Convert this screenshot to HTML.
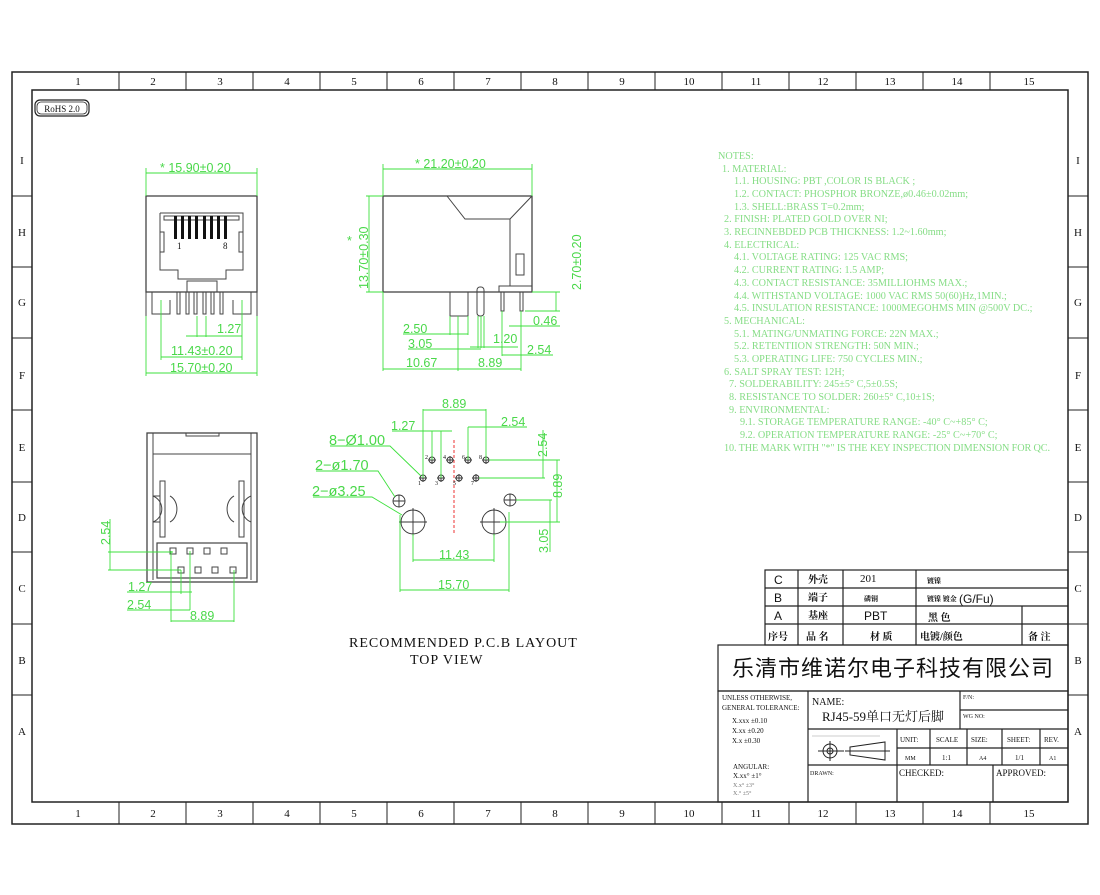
<!DOCTYPE html>
<html><head><meta charset="utf-8"><style>
body{margin:0;background:#fff;}
svg{display:block;}
.g{fill:#4ad84a;font-family:"Liberation Sans",sans-serif;}
.n{fill:#86dd86;font-family:"Liberation Serif","Noto Serif CJK SC",serif;font-size:10.2px;}
.k{font-family:"Liberation Serif","Noto Serif CJK SC",serif;fill:#111;}
</style></head><body>
<svg width="1100" height="895" viewBox="0 0 1100 895" xmlns="http://www.w3.org/2000/svg">
<rect width="1100" height="895" fill="#fff"/>
<g fill="none" stroke="#222" stroke-width="1.5">
<rect x="12" y="72" width="1076" height="752"/>
<rect x="32" y="90" width="1036" height="712"/>
</g>
<g stroke="#222" stroke-width="1">
<line x1="119" y1="72" x2="119" y2="90"/><line x1="186" y1="72" x2="186" y2="90"/><line x1="253" y1="72" x2="253" y2="90"/><line x1="320" y1="72" x2="320" y2="90"/><line x1="387" y1="72" x2="387" y2="90"/><line x1="454" y1="72" x2="454" y2="90"/><line x1="521" y1="72" x2="521" y2="90"/><line x1="588" y1="72" x2="588" y2="90"/><line x1="655" y1="72" x2="655" y2="90"/><line x1="722" y1="72" x2="722" y2="90"/><line x1="789" y1="72" x2="789" y2="90"/><line x1="856" y1="72" x2="856" y2="90"/><line x1="923" y1="72" x2="923" y2="90"/><line x1="990" y1="72" x2="990" y2="90"/>
<line x1="119" y1="802" x2="119" y2="824"/><line x1="186" y1="802" x2="186" y2="824"/><line x1="253" y1="802" x2="253" y2="824"/><line x1="320" y1="802" x2="320" y2="824"/><line x1="387" y1="802" x2="387" y2="824"/><line x1="454" y1="802" x2="454" y2="824"/><line x1="521" y1="802" x2="521" y2="824"/><line x1="588" y1="802" x2="588" y2="824"/><line x1="655" y1="802" x2="655" y2="824"/><line x1="722" y1="802" x2="722" y2="824"/><line x1="789" y1="802" x2="789" y2="824"/><line x1="856" y1="802" x2="856" y2="824"/><line x1="923" y1="802" x2="923" y2="824"/><line x1="990" y1="802" x2="990" y2="824"/>
<line x1="12" y1="196" x2="32" y2="196"/><line x1="12" y1="267" x2="32" y2="267"/><line x1="12" y1="338" x2="32" y2="338"/><line x1="12" y1="410" x2="32" y2="410"/><line x1="12" y1="482" x2="32" y2="482"/><line x1="12" y1="552" x2="32" y2="552"/><line x1="12" y1="624" x2="32" y2="624"/><line x1="12" y1="695" x2="32" y2="695"/>
<line x1="1068" y1="196" x2="1088" y2="196"/><line x1="1068" y1="267" x2="1088" y2="267"/><line x1="1068" y1="338" x2="1088" y2="338"/><line x1="1068" y1="410" x2="1088" y2="410"/><line x1="1068" y1="482" x2="1088" y2="482"/><line x1="1068" y1="552" x2="1088" y2="552"/><line x1="1068" y1="624" x2="1088" y2="624"/><line x1="1068" y1="695" x2="1088" y2="695"/>
</g>
<g class="k" font-size="11" text-anchor="middle">
<text x="78" y="85">1</text><text x="153" y="85">2</text><text x="220" y="85">3</text><text x="287" y="85">4</text><text x="354" y="85">5</text><text x="421" y="85">6</text><text x="488" y="85">7</text><text x="555" y="85">8</text><text x="622" y="85">9</text><text x="689" y="85">10</text><text x="756" y="85">11</text><text x="823" y="85">12</text><text x="890" y="85">13</text><text x="957" y="85">14</text><text x="1029" y="85">15</text>
<text x="78" y="817">1</text><text x="153" y="817">2</text><text x="220" y="817">3</text><text x="287" y="817">4</text><text x="354" y="817">5</text><text x="421" y="817">6</text><text x="488" y="817">7</text><text x="555" y="817">8</text><text x="622" y="817">9</text><text x="689" y="817">10</text><text x="756" y="817">11</text><text x="823" y="817">12</text><text x="890" y="817">13</text><text x="957" y="817">14</text><text x="1029" y="817">15</text>
<text x="22" y="164">I</text><text x="22" y="236">H</text><text x="22" y="306">G</text><text x="22" y="379">F</text><text x="22" y="451">E</text><text x="22" y="521">D</text><text x="22" y="592">C</text><text x="22" y="664">B</text><text x="22" y="735">A</text>
<text x="1078" y="164">I</text><text x="1078" y="236">H</text><text x="1078" y="306">G</text><text x="1078" y="379">F</text><text x="1078" y="451">E</text><text x="1078" y="521">D</text><text x="1078" y="592">C</text><text x="1078" y="664">B</text><text x="1078" y="735">A</text>
</g>
<rect x="35" y="100" width="54" height="16" rx="5" fill="none" stroke="#222" stroke-width="1.2"/>
<rect x="37" y="102" width="50" height="12" rx="4" fill="none" stroke="#222" stroke-width="0.8"/>
<text x="62" y="112" class="k" font-size="9" text-anchor="middle">RoHS 2.0</text>

<!-- FRONT VIEW -->
<g fill="none" stroke="#444" stroke-width="1">
<rect x="146" y="196" width="111" height="96" stroke-width="1.3"/>
<polyline points="160,213 243,213 243,270 226,270 226,279 178,279 178,270 160,270 160,213"/>
<rect x="164" y="216" width="75" height="4"/>
<rect x="160" y="232" width="4" height="20"/><rect x="239" y="232" width="4" height="20"/>
<rect x="187" y="281" width="30" height="11"/>
<line x1="146" y1="292" x2="146" y2="316"/><line x1="257" y1="292" x2="257" y2="316"/>
<path d="M152 292 V314 H170 V300 M233 300 V314 H251 V292"/>
<path d="M177 292V314h3V292 M186 292V314h3V292 M194 292V314h3V292 M203 292V314h3V292 M211 292V314h3V292 M220 292V314h3V292"/>
</g>
<g fill="#111"><rect x="174" y="216" width="3" height="23"/><rect x="181" y="216" width="3" height="23"/><rect x="188" y="216" width="3" height="23"/><rect x="195" y="216" width="3" height="23"/><rect x="203" y="216" width="3" height="23"/><rect x="210" y="216" width="3" height="23"/><rect x="217" y="216" width="3" height="23"/><rect x="224" y="216" width="3" height="23"/></g>
<text x="177" y="249" class="k" font-size="9">1</text><text x="223" y="249" class="k" font-size="9">8</text>
<g stroke="#3de03d" stroke-width="0.9" fill="none">
<line x1="146" y1="173" x2="257" y2="173"/><line x1="146" y1="168" x2="146" y2="196"/><line x1="257" y1="168" x2="257" y2="196"/>
<line x1="161" y1="300" x2="161" y2="360"/><line x1="242" y1="300" x2="242" y2="360"/>
<line x1="146" y1="316" x2="146" y2="376"/><line x1="257" y1="316" x2="257" y2="376"/>
<line x1="197" y1="316" x2="197" y2="337"/><line x1="206" y1="316" x2="206" y2="337"/>
<line x1="186" y1="336" x2="242" y2="336"/>
<line x1="161" y1="357" x2="242" y2="357"/><line x1="146" y1="373" x2="257" y2="373"/>
</g>
<g class="g" font-size="12.5">
<text x="160" y="172">* 15.90±0.20</text><text x="217" y="333">1.27</text><text x="171" y="355">11.43±0.20</text><text x="170" y="372">15.70±0.20</text>
</g>

<!-- SIDE VIEW -->
<g fill="none" stroke="#444" stroke-width="1">
<rect x="383" y="196" width="149" height="96" stroke-width="1.3"/>
<polyline points="447,196 465,219 510,219 532,196"/>
<line x1="510" y1="219" x2="510" y2="286"/>
<rect x="516" y="254" width="8" height="21"/>
<rect x="499" y="286" width="33" height="6"/>
<rect x="450" y="292" width="18" height="24"/>
<rect x="477" y="287" width="7" height="29" rx="3"/>
<rect x="501" y="292" width="3" height="19"/><rect x="520" y="292" width="3" height="19"/>
</g>
<g stroke="#3de03d" stroke-width="0.9" fill="none">
<line x1="383" y1="169" x2="532" y2="169"/><line x1="383" y1="164" x2="383" y2="196"/><line x1="532" y1="164" x2="532" y2="196"/>
<line x1="366" y1="196" x2="383" y2="196"/><line x1="366" y1="292" x2="383" y2="292"/><line x1="369" y1="196" x2="369" y2="292"/>
<line x1="532" y1="292" x2="560" y2="292"/><line x1="525" y1="311" x2="560" y2="311"/><line x1="556" y1="292" x2="556" y2="311"/>
<line x1="383" y1="292" x2="383" y2="371"/><line x1="458" y1="316" x2="458" y2="371"/><line x1="521" y1="311" x2="521" y2="371"/>
<line x1="450" y1="316" x2="450" y2="335"/><line x1="468" y1="316" x2="468" y2="335"/>
<line x1="478" y1="316" x2="478" y2="348"/><line x1="481" y1="316" x2="481" y2="348"/><line x1="484" y1="316" x2="484" y2="348"/>
<line x1="502" y1="311" x2="502" y2="356"/>
<line x1="403" y1="334" x2="468" y2="334"/><line x1="408" y1="349" x2="481" y2="349"/><line x1="470" y1="347" x2="518" y2="347"/>
<line x1="509" y1="326" x2="560" y2="326"/><line x1="502" y1="355" x2="553" y2="355"/>
<line x1="383" y1="369" x2="521" y2="369"/>
</g>
<g class="g" font-size="12.5">
<text x="415" y="168">* 21.20±0.20</text>
<text x="403" y="333">2.50</text><text x="408" y="348">3.05</text><text x="493" y="343">1.20</text><text x="533" y="325">0.46</text><text x="527" y="354">2.54</text>
<text x="406" y="367">10.67</text><text x="478" y="367">8.89</text>
<text transform="translate(368,289) rotate(-90)">13.70±0.30</text><text x="347" y="245">*</text>
<text transform="translate(581,290) rotate(-90)">2.70±0.20</text>
</g>

<!-- BOTTOM VIEW -->
<g fill="none" stroke="#444" stroke-width="1">
<rect x="147" y="433" width="110" height="149" stroke-width="1.3"/>
<line x1="153" y1="433" x2="153" y2="580"/><line x1="251" y1="433" x2="251" y2="580"/>
<line x1="153" y1="454" x2="251" y2="454"/><rect x="186" y="433" width="33" height="3"/>
<rect x="157" y="543" width="90" height="35" stroke-width="1.2"/>
<rect x="160" y="481" width="5" height="56"/><rect x="239" y="481" width="5" height="56"/>
<path d="M153 496 a14 14 0 0 1 0 26 M170 496 a11 14 0 0 1 0 26 M153 496 H160 M153 522 H160"/>
<path d="M251 496 a14 14 0 0 0 0 26 M234 496 a11 14 0 0 0 0 26"/>
<rect x="170" y="548" width="6" height="6"/><rect x="187" y="548" width="6" height="6"/><rect x="204" y="548" width="6" height="6"/><rect x="221" y="548" width="6" height="6"/>
<rect x="178" y="567" width="6" height="6"/><rect x="195" y="567" width="6" height="6"/><rect x="212" y="567" width="6" height="6"/><rect x="230" y="567" width="6" height="6"/>
</g>
<g stroke="#3de03d" stroke-width="0.9" fill="none">
<line x1="108" y1="552" x2="173" y2="552"/><line x1="108" y1="570" x2="181" y2="570"/><line x1="110" y1="519" x2="110" y2="570"/>
<line x1="171" y1="551" x2="171" y2="622"/><line x1="181" y1="570" x2="181" y2="594"/><line x1="190" y1="551" x2="190" y2="610"/><line x1="234" y1="570" x2="234" y2="622"/>
<line x1="127" y1="592" x2="192" y2="592"/><line x1="127" y1="610" x2="190" y2="610"/><line x1="171" y1="621" x2="234" y2="621"/>
</g>
<g class="g" font-size="12.5">
<text transform="translate(110,545) rotate(-90)">2.54</text>
<text x="128" y="591">1.27</text><text x="127" y="609">2.54</text><text x="190" y="620">8.89</text>
</g>

<!-- PCB LAYOUT -->
<line x1="454" y1="440" x2="454" y2="535" stroke="#e33" stroke-width="1" stroke-dasharray="3,2"/>
<g fill="none" stroke="#333" stroke-width="0.9">
<circle cx="432" cy="460" r="3"/><circle cx="450" cy="460" r="3"/><circle cx="468" cy="460" r="3"/><circle cx="486" cy="460" r="3"/>
<circle cx="423" cy="478" r="3"/><circle cx="441" cy="478" r="3"/><circle cx="459" cy="478" r="3"/><circle cx="476" cy="478" r="3"/>
<circle cx="399" cy="501" r="6"/><circle cx="510" cy="500" r="6"/>
<circle cx="413" cy="522" r="12"/><circle cx="494" cy="522" r="12"/>
<path d="M393 501h12M399 495v12M504 500h12M510 494v12M399 522h28M413 508v28M480 522h28M494 508v28"/>
<path d="M428 460h8M432 456v8M446 460h8M450 456v8M464 460h8M468 456v8M482 460h8M486 456v8M419 478h8M423 474v8M437 478h8M441 474v8M455 478h8M459 474v8M472 478h8M476 474v8"/>
</g>
<g class="k" font-size="6"><text x="425" y="459">2</text><text x="443" y="459">4</text><text x="462" y="459">6</text><text x="479" y="459">8</text><text x="418" y="485">1</text><text x="435" y="485">3</text><text x="453" y="485">5</text><text x="471" y="485">7</text></g>
<g stroke="#3de03d" stroke-width="0.9" fill="none">
<line x1="423" y1="409" x2="423" y2="478"/><line x1="486" y1="409" x2="486" y2="460"/><line x1="423" y1="410" x2="486" y2="410"/>
<line x1="392" y1="431" x2="452" y2="431"/><line x1="432" y1="431" x2="432" y2="460"/><line x1="441" y1="431" x2="441" y2="478"/>
<line x1="468" y1="427" x2="468" y2="460"/><line x1="468" y1="427" x2="527" y2="427"/>
<line x1="489" y1="460" x2="560" y2="460"/><line x1="479" y1="478" x2="545" y2="478"/><line x1="543" y1="430" x2="543" y2="478"/>
<line x1="557" y1="460" x2="557" y2="522"/><line x1="500" y1="522" x2="560" y2="522"/><line x1="516" y1="500" x2="552" y2="500"/><line x1="550" y1="500" x2="550" y2="552"/>
<line x1="413" y1="534" x2="413" y2="562"/><line x1="494" y1="534" x2="494" y2="562"/><line x1="413" y1="560" x2="494" y2="560"/>
<line x1="400" y1="515" x2="400" y2="592"/><line x1="509" y1="512" x2="509" y2="592"/><line x1="400" y1="590" x2="509" y2="590"/>
<polyline points="330,446 390,446 421,476"/><polyline points="316,471 378,471 395,497"/><polyline points="313,497 372,497 402,515"/>
</g>
<g class="g" font-size="12.5">
<text x="442" y="408">8.89</text><text x="391" y="430">1.27</text><text x="501" y="426">2.54</text>
<text x="329" y="445" font-size="14.5">8−Ø1.00</text><text x="315" y="470" font-size="14.5">2−ø1.70</text><text x="312" y="496" font-size="14.5">2−ø3.25</text>
<text transform="translate(547,457) rotate(-90)">2.54</text><text transform="translate(562,498) rotate(-90)">8.89</text>
<text transform="translate(548,553) rotate(-90)">3.05</text>
<text x="439" y="559">11.43</text><text x="438" y="589">15.70</text>
</g>
<text x="349" y="647" class="k" font-size="14" letter-spacing="1">RECOMMENDED P.C.B LAYOUT</text>
<text x="410" y="664" class="k" font-size="14" letter-spacing="1">TOP VIEW</text>

<!-- NOTES -->
<g class="n">
<text x="718" y="159">NOTES:</text>
<text x="722" y="172">1. MATERIAL:</text>
<text x="734" y="184">1.1. HOUSING: PBT ,COLOR IS BLACK ;</text>
<text x="734" y="197">1.2. CONTACT: PHOSPHOR BRONZE,ø0.46±0.02mm;</text>
<text x="734" y="210">1.3. SHELL:BRASS T=0.2mm;</text>
<text x="724" y="222">2. FINISH: PLATED GOLD OVER NI;</text>
<text x="724" y="235">3. RECINNEBDED PCB THICKNESS: 1.2~1.60mm;</text>
<text x="724" y="248">4. ELECTRICAL:</text>
<text x="734" y="260">4.1. VOLTAGE RATING: 125 VAC RMS;</text>
<text x="734" y="273">4.2. CURRENT RATING: 1.5 AMP;</text>
<text x="734" y="286">4.3. CONTACT RESISTANCE: 35MILLIOHMS MAX.;</text>
<text x="734" y="299">4.4. WITHSTAND VOLTAGE: 1000 VAC RMS 50(60)Hz,1MIN.;</text>
<text x="734" y="311">4.5. INSULATION RESISTANCE: 1000MEGOHMS MIN @500V DC.;</text>
<text x="724" y="324">5. MECHANICAL:</text>
<text x="734" y="337">5.1. MATING/UNMATING FORCE: 22N MAX.;</text>
<text x="734" y="349">5.2. RETENTIION STRENGTH: 50N MIN.;</text>
<text x="734" y="362">5.3. OPERATING LIFE: 750 CYCLES MIN.;</text>
<text x="724" y="375">6. SALT SPRAY TEST: 12H;</text>
<text x="729" y="387">7. SOLDERABILITY: 245±5° C,5±0.5S;</text>
<text x="729" y="400">8. RESISTANCE TO SOLDER: 260±5° C,10±1S;</text>
<text x="729" y="413">9. ENVIRONMENTAL:</text>
<text x="740" y="425">9.1. STORAGE TEMPERATURE RANGE: -40° C~+85° C;</text>
<text x="740" y="438">9.2. OPERATION TEMPERATURE RANGE: -25° C~+70° C;</text>
<text x="724" y="451" textLength="326" lengthAdjust="spacing">10. THE MARK WITH "*" IS THE KEY INSPECTION DIMENSION FOR QC.</text>
</g>

<!-- TITLE BLOCK -->
<g fill="none" stroke="#222" stroke-width="1.2">
<rect x="765" y="570" width="303" height="75"/>
<line x1="765" y1="588" x2="1068" y2="588"/><line x1="765" y1="606" x2="1068" y2="606"/><line x1="765" y1="624" x2="1068" y2="624"/>
<line x1="798" y1="570" x2="798" y2="645"/><line x1="843" y1="570" x2="843" y2="645"/><line x1="916" y1="570" x2="916" y2="645"/><line x1="1022" y1="606" x2="1022" y2="645"/>
<rect x="718" y="645" width="350" height="46"/>
<rect x="718" y="691" width="350" height="111"/>
<line x1="808" y1="691" x2="808" y2="802"/>
<line x1="960" y1="691" x2="960" y2="729"/><line x1="960" y1="710" x2="1068" y2="710"/>
<line x1="808" y1="729" x2="1068" y2="729"/><line x1="897" y1="748" x2="1068" y2="748"/><line x1="808" y1="765" x2="1068" y2="765"/>
<line x1="897" y1="729" x2="897" y2="802"/><line x1="930" y1="729" x2="930" y2="765"/><line x1="967" y1="729" x2="967" y2="765"/><line x1="1002" y1="729" x2="1002" y2="765"/><line x1="1040" y1="729" x2="1040" y2="765"/>
<line x1="993" y1="765" x2="993" y2="802"/>
</g>
<g class="k" font-size="12">
<text x="774" y="584" font-family="Liberation Sans">C</text><text x="774" y="602" font-family="Liberation Sans">B</text><text x="774" y="620" font-family="Liberation Sans">A</text><text x="768" y="640" font-size="10" font-weight="bold">序号</text>
<text x="808" y="583" font-size="10" font-weight="bold">外壳</text><text x="808" y="601" font-size="10" font-weight="bold">端子</text><text x="808" y="619" font-size="10" font-weight="bold">基座</text><text x="806" y="640" font-size="10" font-weight="bold">品  名</text>
<text x="860" y="582" font-size="11">201</text><text x="864" y="601" font-size="7" font-weight="bold">磷铜</text><text x="864" y="620" font-family="Liberation Sans">PBT</text><text x="870" y="640" font-size="10" font-weight="bold">材  质</text>
<text x="927" y="583" font-size="7" font-weight="bold">镀镍</text><text x="927" y="601" font-size="7" font-weight="bold">镀镍 镀金</text><text x="959" y="603" font-family="Liberation Sans">(G/Fu)</text><text x="928" y="621" font-size="10" font-weight="bold">黑  色</text><text x="920" y="640" font-size="10" font-weight="bold">电镀/颜色</text><text x="1028" y="640" font-size="10" font-weight="bold">备  注</text>
<text x="893" y="676" font-size="22" font-family="Noto Sans CJK SC,sans-serif" text-anchor="middle" letter-spacing="1">乐清市维诺尔电子科技有限公司</text>
<text x="722" y="700" font-size="7">UNLESS OTHERWISE,</text><text x="722" y="710" font-size="7">GENERAL TOLERANCE:</text>
<text x="732" y="723" font-size="7">X.xxx  ±0.10</text><text x="732" y="733" font-size="7">X.xx   ±0.20</text><text x="732" y="743" font-size="7">X.x    ±0.30</text>
<text x="733" y="769" font-size="7">ANGULAR:</text><text x="733" y="778" font-size="7">X.xx°  ±1°</text><text x="733" y="787" font-size="6" fill="#777">X.x°   ±3°</text><text x="733" y="795" font-size="6" fill="#777">X.°    ±5°</text>
<text x="812" y="705" font-size="10">NAME:</text><text x="822" y="721" font-size="13">RJ45-59单口无灯后脚</text>
<text x="963" y="699" font-size="6">F/N:</text><text x="963" y="718" font-size="6">WG NO:</text>
<text x="900" y="742" font-size="7">UNIT:</text><text x="936" y="742" font-size="7">SCALE</text><text x="971" y="742" font-size="7">SIZE:</text><text x="1007" y="742" font-size="7">SHEET:</text><text x="1044" y="742" font-size="7">REV.</text>
<text x="905" y="760" font-size="6">MM</text><text x="942" y="760" font-size="7">1:1</text><text x="979" y="760" font-size="6">A4</text><text x="1015" y="760" font-size="7">1/1</text><text x="1049" y="760" font-size="6">A1</text>
<text x="810" y="775" font-size="6">DRAWN:</text><text x="899" y="776" font-size="9">CHECKED:</text><text x="996" y="776" font-size="9">APPROVED:</text>
</g>
<g fill="none" stroke="#222" stroke-width="1">
<circle cx="830" cy="751" r="7"/><circle cx="830" cy="751" r="3"/><path d="M818 751h26M830 741v20"/>
<polygon points="850,747 885,742 885,760 850,755"/><line x1="845" y1="751" x2="890" y2="751"/>
<line x1="812" y1="736" x2="880" y2="736" stroke="#999" stroke-width="0.5"/>
</g>
</svg>
</body></html>
